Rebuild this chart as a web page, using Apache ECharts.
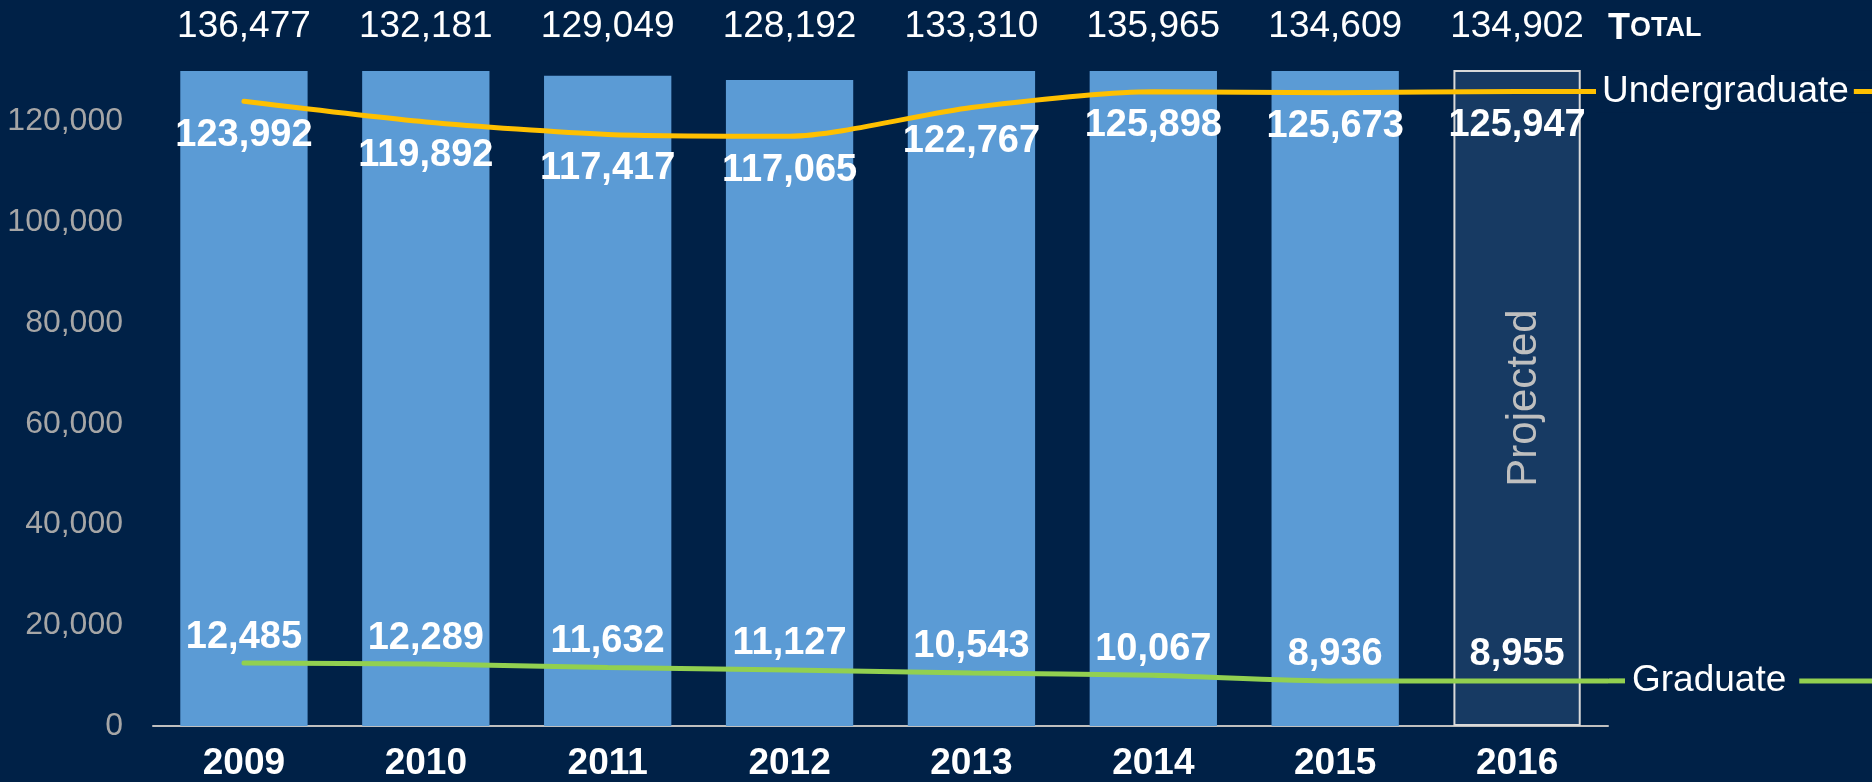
<!DOCTYPE html>
<html>
<head>
<meta charset="utf-8">
<script src="https://cdn.jsdelivr.net/npm/echarts@6/dist/echarts.min.js"></script>
<style>
  html, body { margin: 0; padding: 0; background: #002147; }
  #chart { width: 1872px; height: 782px; }
</style>
</head>
<body>
<div id="chart"></div>
<script>
// data
const years = ['2009', '2010', '2011', '2012', '2013', '2014', '2015', '2016'];
const totals = [136477, 132181, 129049, 128192, 133310, 135965, 134609, 134902];
const undergrad = [123992, 119892, 117417, 117065, 122767, 125898, 125673, 125947];
const graduate = [12485, 12289, 11632, 11127, 10543, 10067, 8936, 8955];
const projectedYear = '2016';

const FONT = '"Liberation Sans", Arial, sans-serif';
const BG = '#002147';
const fmt = (v) => v.toLocaleString('en-US');

const chart = echarts.init(document.getElementById('chart'));

// points sit on category centres, plus one at the grid edge that carries the
// series name; the name label draws the short line pieces around itself
function lineData(values, name, color, opts) {
  const pts = values.map((v, i) => ({ value: [i + 0.5, v] }));
  const last = values[values.length - 1];
  pts.push({
    value: [values.length, last],
    label: {
      show: true,
      position: 'right',
      distance: 0,
      offset: opts.offset,
      backgroundColor: BG,
      formatter: '{h|}{n|' + name + '}{t|}',
      rich: {
        h: { width: opts.lead, height: 5, backgroundColor: opts.lead ? color : 'transparent', verticalAlign: 'middle' },
        n: {
          color: '#ffffff',
          fontFamily: FONT,
          fontWeight: 'normal',
          fontSize: 37,
          lineHeight: 42,
          padding: [0, opts.gapRight, 0, opts.gapLeft]
        },
        t: { width: 120, height: 5, backgroundColor: color, verticalAlign: 'middle' }
      }
    }
  });
  return pts;
}

const barData = totals.map((v, i) => {
  if (years[i] !== projectedYear) return v;
  return {
    value: v,
    itemStyle: { color: '#173a63', borderColor: '#d9d9d9', borderWidth: 2 },
    label: {
      show: true,
      position: 'inside',
      rotate: 90,
      offset: [0, 7],
      formatter: 'Projected',
      color: '#bfbfbf',
      fontFamily: FONT,
      fontSize: 42
    }
  };
});

const valueLabel = {
  show: true,
  color: '#ffffff',
  fontFamily: FONT,
  fontWeight: 'bold',
  fontSize: 38,
  formatter: (p) => fmt(p.value[1])
};

const option = {
  backgroundColor: BG,
  animation: false,
  title: {
    left: 1603,
    top: 4,
    text: '{a|T}{b|OTAL}',
    textStyle: {
      rich: {
        a: { color: '#ffffff', fontFamily: FONT, fontWeight: 'bold', fontSize: 36, lineHeight: 40 },
        b: { color: '#ffffff', fontFamily: FONT, fontWeight: 'bold', fontSize: 27, lineHeight: 40 }
      }
    }
  },
  grid: { left: 153, right: 264, top: 71, bottom: 53 },
  xAxis: [
    {
      type: 'category',
      data: years,
      axisLine: { lineStyle: { color: '#bfbfbf', width: 2 } },
      axisTick: { length: 11, lineStyle: { color: '#bfbfbf', width: 2 } },
      axisLabel: {
        color: '#ffffff',
        fontFamily: FONT,
        fontWeight: 'bold',
        fontSize: 37,
        margin: 19
      }
    },
    {
      type: 'category',
      position: 'top',
      data: totals.map(fmt),
      axisLine: { show: false },
      axisTick: { show: false },
      axisLabel: {
        color: '#ffffff',
        fontFamily: FONT,
        fontSize: 37,
        lineHeight: 40,
        margin: 24
      }
    },
    { type: 'value', min: 0, max: years.length, show: false }
  ],
  yAxis: {
    type: 'value',
    min: 0,
    max: 130000,
    interval: 20000,
    splitLine: { show: false },
    axisLine: { show: false },
    axisTick: { show: false },
    axisLabel: {
      color: '#a6a6a6',
      fontFamily: FONT,
      fontSize: 32,
      margin: 30,
      showMaxLabel: false,
      formatter: fmt
    }
  },
  series: [
    {
      name: 'Total',
      type: 'bar',
      xAxisIndex: 0,
      data: barData,
      barWidth: '70%',
      itemStyle: { color: '#5b9bd5' },
      label: { show: false }
    },
    {
      name: 'Undergraduate',
      type: 'line',
      xAxisIndex: 2,
      smooth: 0.25,
      symbol: 'circle',
      symbolSize: 2,
      itemStyle: { color: '#ffc000' },
      lineStyle: { color: '#ffc000', width: 5, cap: 'round' },
      label: Object.assign({ position: 'bottom', distance: 14 }, valueLabel),
      data: lineData(undergrad, 'Undergraduate', '#ffc000', { offset: [-13, 0], lead: 0, gapLeft: 6, gapRight: 5 }),
      z: 3
    },
    {
      name: 'Graduate',
      type: 'line',
      xAxisIndex: 2,
      smooth: 0.25,
      symbol: 'circle',
      symbolSize: 2,
      itemStyle: { color: '#92d050' },
      lineStyle: { color: '#92d050', width: 5, cap: 'round' },
      label: Object.assign({ position: 'top', distance: 6 }, valueLabel),
      data: lineData(graduate, 'Graduate', '#92d050', { offset: [0, 0], lead: 16, gapLeft: 7, gapRight: 13 }),
      z: 3
    }
  ]
};

chart.setOption(option);

window.addEventListener('resize', () => chart.resize());
</script>
</body>
</html>
